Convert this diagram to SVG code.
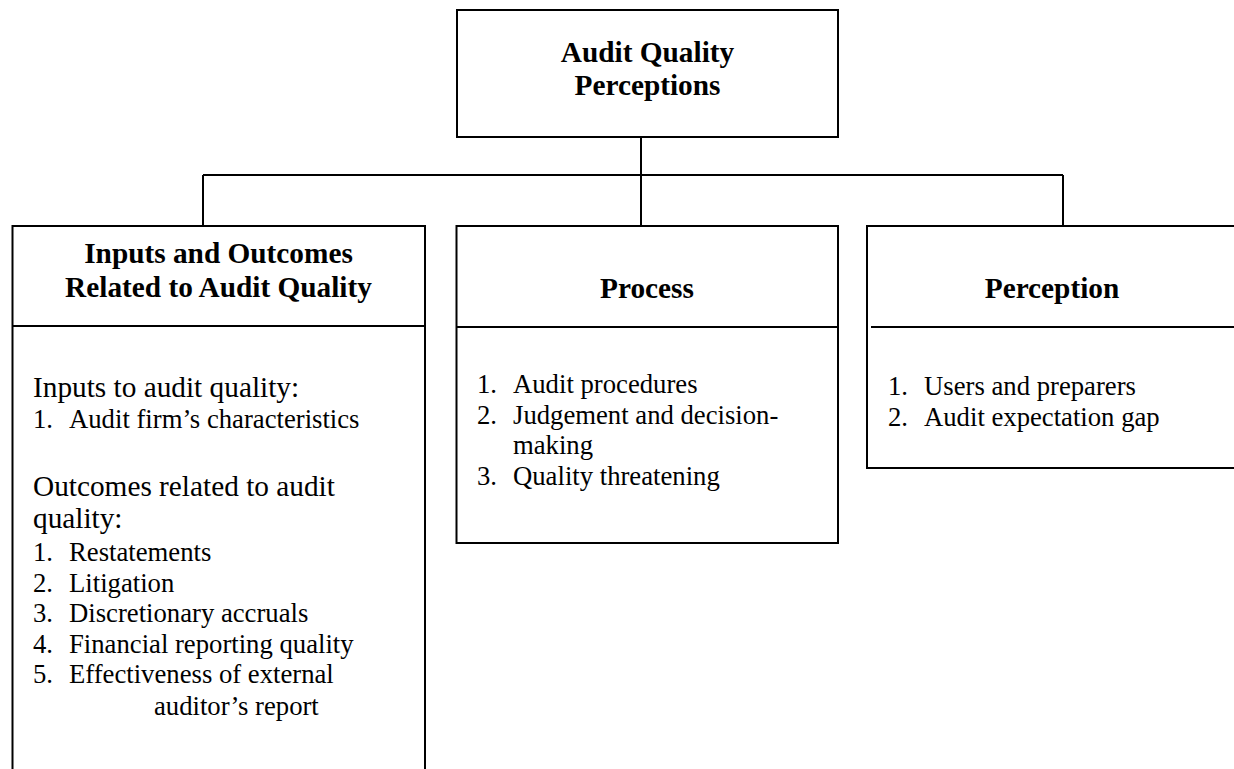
<svg xmlns="http://www.w3.org/2000/svg" width="1234" height="769" viewBox="0 0 1234 769">
<style>
.box{fill:#fff;stroke:#000;stroke-width:2}
.ln{fill:none;stroke:#000;stroke-width:2}
.t{font-family:"Liberation Serif","Times New Roman",serif;fill:#000}
.h{font-size:29.3px;font-weight:bold;text-anchor:middle}
.sub{font-size:29.3px}
.li{font-size:26.7px}
</style>
<rect width="1234" height="769" fill="#fff"/>
<g id="connectors">
<path class="ln" d="M641 137V226M203 175H1063M203 175V226M1063 175V226"/>
</g>
<g id="top">
<rect class="box" x="457" y="10" width="381" height="127"/>
<text class="t h" x="647.5" y="62">Audit Quality</text>
<text class="t h" x="647.5" y="95">Perceptions</text>
</g>
<g id="inputs">
<rect class="box" x="12.5" y="226" width="412.5" height="560"/>
<line class="ln" x1="12.5" y1="326" x2="425" y2="326"/>
<text class="t h" x="218.5" y="263">Inputs and Outcomes</text>
<text class="t h" x="218.5" y="297">Related to Audit Quality</text>
<text class="t sub" x="33" y="397">Inputs to audit quality:</text>
<text class="t li" x="33" y="428">1.</text><text class="t li" x="69" y="428">Audit firm’s characteristics</text>
<text class="t sub" x="33" y="496">Outcomes related to audit</text>
<text class="t sub" x="33" y="528">quality:</text>
<text class="t li" x="33" y="561">1.</text><text class="t li" x="69" y="561">Restatements</text>
<text class="t li" x="33" y="591.5">2.</text><text class="t li" x="69" y="591.5">Litigation</text>
<text class="t li" x="33" y="622">3.</text><text class="t li" x="69" y="622">Discretionary accruals</text>
<text class="t li" x="33" y="652.5">4.</text><text class="t li" x="69" y="652.5">Financial reporting quality</text>
<text class="t li" x="33" y="683">5.</text><text class="t li" x="69" y="683">Effectiveness of external</text>
<text class="t li" x="154" y="714.5">auditor’s report</text>
</g>
<g id="process">
<rect class="box" x="456.5" y="226" width="381.5" height="317"/>
<line class="ln" x1="456.5" y1="327" x2="838" y2="327"/>
<text class="t h" x="647" y="298">Process</text>
<text class="t li" x="477" y="393">1.</text><text class="t li" x="513" y="393">Audit procedures</text>
<text class="t li" x="477" y="423.5">2.</text><text class="t li" x="513" y="423.5">Judgement and decision-</text>
<text class="t li" x="513" y="453.5">making</text>
<text class="t li" x="477" y="484.5">3.</text><text class="t li" x="513" y="484.5">Quality threatening</text>
</g>
<g id="perception">
<rect class="box" x="867" y="226" width="380" height="242"/>
<line class="ln" x1="871" y1="327" x2="1247" y2="327"/>
<text class="t h" x="1052" y="298">Perception</text>
<text class="t li" x="888" y="395">1.</text><text class="t li" x="924" y="395">Users and preparers</text>
<text class="t li" x="888" y="426">2.</text><text class="t li" x="924" y="426">Audit expectation gap</text>
</g>
</svg>
